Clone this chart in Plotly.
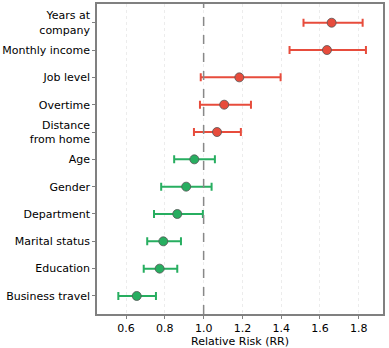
import plotly.graph_objects as go

# factors, top to bottom
factors = ['Years at<br>company', 'Monthly income', 'Job level', 'Overtime',
           'Distance<br>from home', 'Age', 'Gender', 'Department',
           'Marital status', 'Education', 'Business travel']
rr = [1.66, 1.636, 1.184, 1.106, 1.069, 0.952, 0.91, 0.864, 0.792, 0.773, 0.655]
ci_low = [1.515, 1.443, 0.985, 0.981, 0.95, 0.848, 0.781, 0.744, 0.709, 0.691, 0.56]
ci_high = [1.82, 1.837, 1.397, 1.244, 1.192, 1.058, 1.041, 0.996, 0.883, 0.864, 0.754]

red = '#e74c3c'
green = '#27ae60'

fig = go.Figure()
for name, r, lo, hi in zip(factors, rr, ci_low, ci_high):
    col = red if r > 1 else green
    fig.add_trace(go.Scatter(
        x=[r], y=[name], mode='markers',
        marker=dict(size=9, color=col, line=dict(color='#555555', width=0.8)),
        error_x=dict(type='data', symmetric=False, array=[hi - r], arrayminus=[r - lo],
                     color=col, thickness=2, width=4),
        showlegend=False))

# reference line at RR = 1
fig.add_vline(x=1.0, line=dict(color='#888888', width=1.5, dash='dash'))

fig.update_layout(
    width=389, height=348,
    margin=dict(l=97, r=6, t=4, b=34),
    paper_bgcolor='white', plot_bgcolor='white',
    font=dict(family='DejaVu Sans', size=11, color='black'),
)
fig.update_xaxes(
    range=[0.45, 1.925], tickvals=[0.6, 0.8, 1.0, 1.2, 1.4, 1.6, 1.8],
    ticktext=['0.6', '0.8', '1.0', '1.2', '1.4', '1.6', '1.8'],
    showgrid=True, gridcolor='#ececec', griddash='dot', gridwidth=1,
    showline=True, linecolor='#808080', linewidth=1.5, mirror=True,
    ticks='outside', ticklen=3, tickcolor='#808080', automargin=False,
    title=dict(text='Relative Risk (RR)', standoff=0, font=dict(size=11)),
    zeroline=False)
fig.update_yaxes(
    type='category', categoryorder='array', categoryarray=factors,
    range=[10.66, -0.685], showgrid=False, automargin=False,
    showline=True, linecolor='#808080', linewidth=1.5, mirror=True,
    ticks='outside', ticklen=3, tickcolor='#808080', zeroline=False)

# drop the default page margin so the figure sits at the top-left corner
fig.write_html('out.html', config={'displayModeBar': False},
               post_script="document.body.style.margin='0';")
